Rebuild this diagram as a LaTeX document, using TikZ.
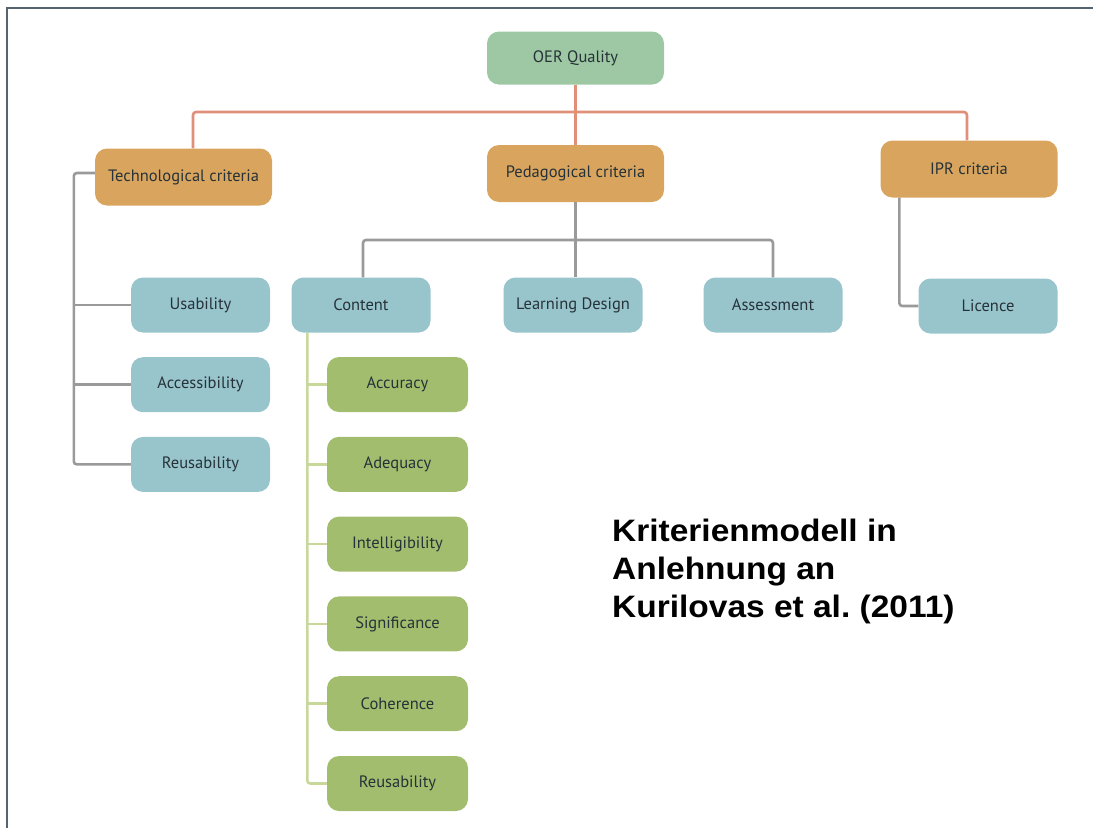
\documentclass[tikz,border=0pt]{standalone}
\usepackage{fontspec}
\usepackage{graphicx}
\setmainfont{PT Sans}
\newfontfamily\titlefont{Liberation Sans}
\usetikzlibrary{positioning}
\definecolor{rootgreen}{HTML}{9DC8A3}
\definecolor{critorange}{HTML}{D9A55E}
\definecolor{subblue}{HTML}{98C4CC}
\definecolor{leafgreen}{HTML}{A3BD6F}
\definecolor{linkred}{HTML}{E0907A}
\definecolor{linkgray}{HTML}{9A9A9A}
\definecolor{linkgreen}{HTML}{C8D89A}
\definecolor{framegray}{HTML}{56646F}
\definecolor{textdark}{HTML}{263238}
\frenchspacing

\begin{document}
\begin{tikzpicture}[
  x=1pt, y=-1pt,
  box/.style={rounded corners=12pt, minimum height=55pt, inner sep=0pt,
              align=center, text=textdark, font=\fontsize{16.5}{19}\selectfont},
  root/.style={box, fill=rootgreen, minimum width=177pt, minimum height=53pt},
  crit/.style={box, fill=critorange, minimum width=177pt, minimum height=57pt},
  sub/.style={box, fill=subblue, minimum width=139pt},
  leaf/.style={box, fill=leafgreen, minimum width=141pt},
  redlink/.style={draw=linkred, line width=2.6pt, rounded corners=3pt},
  graylink/.style={draw=linkgray, line width=2.6pt, rounded corners=3pt},
  greenlink/.style={draw=linkgreen, line width=2.6pt, rounded corners=3pt}
]
\useasboundingbox (0,0) rectangle (1093,828);

% frame
\draw[framegray, line width=2pt] (7,828) -- (7,8) -- (1093,8);

% top levels
\node[root] (oer) at (575.5,58) {OER Quality};
\node[crit] (tech) at (183.5,177) {Technological criteria};
\node[crit] (ped) at (575.5,173.5) {Pedagogical criteria};
\node[crit] (ipr) at (969,169) {IPR criteria};

\coordinate (bus) at (575,112);
\draw[redlink] (oer.south) -- (ped.north);
\draw[redlink] ([xshift=9.5pt]tech.north) |- (bus) -| ([xshift=-2pt]ipr.north);

% technological branch
\foreach \name/\label [count=\i] in {usab/Usability, access/Accessibility, reus/Reusability}
  \node[sub] (\name) at (200.5,{305+(\i-1)*79.7}) {\label};
\draw[graylink] ([yshift=4pt]tech.west) -| ([xshift=-57pt]reus.west) -- (reus.west);
\draw[graylink] (usab.west) -- ++(-57,0);
\draw[graylink] (access.west) -- ++(-57,0);

% pedagogical branch
\node[sub] (content) at (361,305) {Content};
\node[sub] (design) at (573,305) {Learning Design};
\node[sub] (assess) at (773,305) {Assessment};
\coordinate (pbus) at (575,240);
\draw[graylink] (ped.south) -- (ped.south |- design.north);
\draw[graylink] ([xshift=2pt]content.north) |- (pbus) -| (assess.north);

% IPR branch
\node[sub] (licence) at (988,306) {Licence};
\draw[graylink] ([xshift=19pt]ipr.south west) |- (licence.west);

% content criteria
\foreach \name/\label [count=\i] in {accur/Accuracy, adequ/Adequacy, intel/Intelligibility,
    signif/Significance, coher/Coherence, reuse/Reusability}
  \node[leaf] (\name) at (397.5,{384.5+(\i-1)*79.8}) {\label};
\draw[greenlink] ([xshift=16pt]content.south west) |- (reuse.west);
\foreach \name in {accur, adequ, intel, signif, coher}
  \draw[greenlink] (\name.west) -- ++(-20,0);

% caption
\node[anchor=north west, inner sep=0pt,
      font=\titlefont\bfseries\fontsize{31}{38}\selectfont] (caption) at (612,515)
  {\scalebox{1.08}[1]{\begin{tabular}{@{}l@{}}Kriterienmodell in\\Anlehnung an\\Kurilovas et al. (2011)\end{tabular}}};
\end{tikzpicture}
\end{document}
